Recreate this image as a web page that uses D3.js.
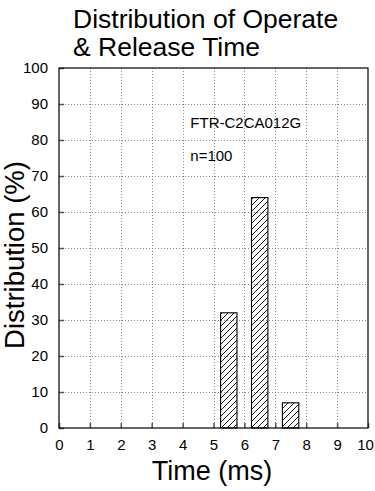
<!DOCTYPE html>
<html>
<head>
<meta charset="utf-8">
<script src="https://cdn.jsdelivr.net/npm/d3@7"></script>
<style>
  body { margin: 0; background: #fff; }
  text { font-family: "Liberation Sans", Arial, sans-serif; fill: #000; }
</style>
</head>
<body>
<svg id="chart" width="375" height="491"></svg>
<script>
// data
const binStarts = [5, 6, 7];          // ms, each bin is 1 ms wide
const distribution = [32, 64, 7];     // %
const xTickValues = [0, 1, 2, 3, 4, 5, 6, 7, 8, 9, 10];
const yTickValues = [0, 10, 20, 30, 40, 50, 60, 70, 80, 90, 100];
const titleLines = ['Distribution of Operate', '& Release Time'];
const notes = ['FTR-C2CA012G', 'n=100'];

const svg = d3.select('#chart');
const margin = { top: 68, right: 7, bottom: 63, left: 59 };
const width = 375 - margin.left - margin.right;
const height = 491 - margin.top - margin.bottom;

const x = d3.scaleLinear().domain([0, 10]).range([0, width]);
const y = d3.scaleLinear().domain([0, 100]).range([height, 0]);

// hatch pattern for the bars
const defs = svg.append('defs');
defs.append('pattern')
  .attr('id', 'hatch')
  .attr('patternUnits', 'userSpaceOnUse')
  .attr('width', 6).attr('height', 6)
  .append('path')
    .attr('d', 'M-1,7 L7,-1 M-1,1 L1,-1 M5,7 L7,5')
    .attr('stroke', '#000')
    .attr('stroke-width', 0.9);

const chart = svg.append('g')
  .attr('transform', `translate(${margin.left},${margin.top})`);

// dotted grid
chart.append('g')
  .selectAll('line')
  .data(xTickValues.slice(1, -1))
  .enter().append('line')
    .attr('x1', d => Math.round(x(d)) + 0.5).attr('x2', d => Math.round(x(d)) + 0.5)
    .attr('y1', 0).attr('y2', height)
    .attr('stroke', '#888').attr('stroke-dasharray', '1,2');

chart.append('g')
  .selectAll('line')
  .data(yTickValues.slice(1, -1))
  .enter().append('line')
    .attr('y1', d => Math.round(y(d)) + 0.5).attr('y2', d => Math.round(y(d)) + 0.5)
    .attr('x1', 0).attr('x2', width)
    .attr('stroke', '#888').attr('stroke-dasharray', '1,2');

// bars
chart.append('g')
  .selectAll('rect')
  .data(binStarts)
  .enter().append('rect')
    .attr('x', d => x(d + 0.23))
    .attr('width', x(0.53) - x(0))
    .attr('y', (d, i) => y(distribution[i]))
    .attr('height', (d, i) => height - y(distribution[i]))
    .attr('fill', 'url(#hatch)')
    .attr('stroke', '#000')
    .attr('stroke-width', 1.1);

// axes, ticks pointing inward
const xAxis = chart.append('g')
  .attr('transform', `translate(0,${height})`)
  .call(d3.axisBottom(x).tickValues(xTickValues).tickSizeInner(-5).tickSizeOuter(0).tickPadding(11));
const yAxis = chart.append('g')
  .call(d3.axisLeft(y).tickValues(yTickValues).tickSizeInner(-5).tickSizeOuter(0).tickPadding(11));

[xAxis, yAxis].forEach(a => {
  a.select('.domain').remove();
  a.selectAll('line').attr('stroke', '#555').attr('stroke-width', 1.5);
  a.selectAll('text').attr('font-size', 15).attr('font-family', '"Liberation Sans", Arial, sans-serif');
});
// last label sits against the right edge, as in the original
xAxis.selectAll('text').filter(d => d === 10).attr('dx', -3);

// frame
chart.append('rect')
  .attr('x', 0).attr('y', 0)
  .attr('width', width).attr('height', height)
  .attr('fill', 'none')
  .attr('stroke', '#000')
  .attr('stroke-width', 1.2);

// notes
chart.selectAll('.note')
  .data(notes)
  .enter().append('text')
    .attr('class', 'note')
    .attr('x', x(4.25))
    .attr('y', (d, i) => y(83.3) + i * 33)
    .attr('font-size', 15)
    .text(d => d);

// title
svg.selectAll('.title')
  .data(titleLines)
  .enter().append('text')
    .attr('class', 'title')
    .attr('x', 73)
    .attr('y', (d, i) => 28 + i * 28)
    .attr('font-size', 26.5)
    .text(d => d);

// axis labels
svg.append('text')
  .attr('x', 212)
  .attr('y', 480)
  .attr('text-anchor', 'middle')
  .attr('font-size', 27)
  .text('Time (ms)');

svg.append('text')
  .attr('transform', `translate(24,255) rotate(-90)`)
  .attr('text-anchor', 'middle')
  .attr('font-size', 27.5)
  .text('Distribution (%)');
</script>
</body>
</html>
